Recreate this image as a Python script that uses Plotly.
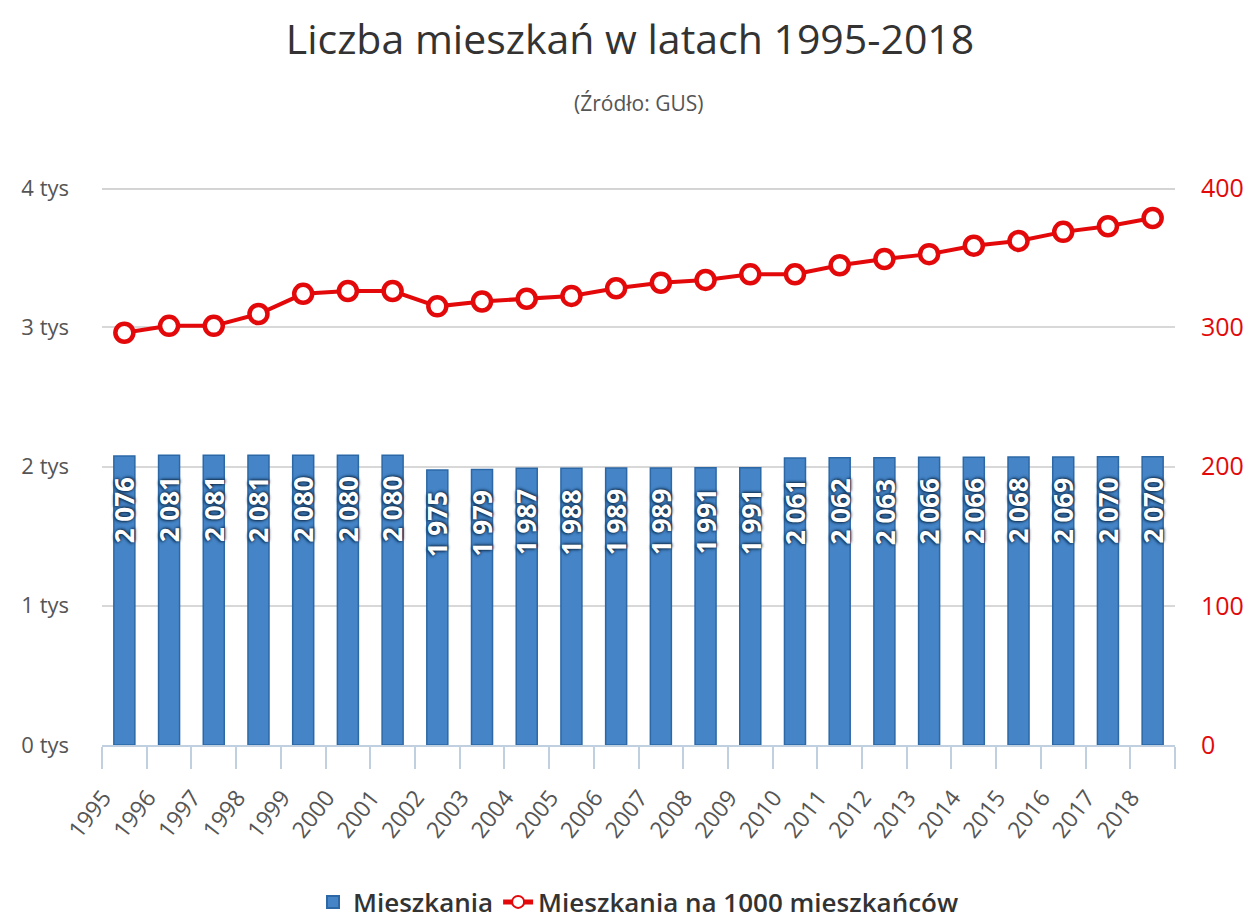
import plotly.graph_objects as go

years = [str(y) for y in range(1995, 2019)]
mieszkania = [2076, 2081, 2081, 2081, 2080, 2080, 2080, 1975, 1979, 1987, 1988, 1989,
              1989, 1991, 1991, 2061, 2062, 2063, 2066, 2066, 2068, 2069, 2070, 2070]
na_1000 = [296, 301, 301, 309.5, 324, 326, 326, 315, 318.5, 320.5, 322.5, 328,
           332, 334, 338, 338, 344.5, 349, 352.5, 358.5, 362, 368.5, 372.5, 378.5]

left_ticks = [0, 1000, 2000, 3000, 4000]
left_ticktext = ["0 tys", "1 tys", "2 tys", "3 tys", "4 tys"]
right_ticks = [0, 100, 200, 300, 400]

FONT = "Open Sans"
OFF = 8                      # page body margin
W, H = 1252 - OFF, 922 - OFF
T, B = 188 - OFF, 177
PH = H - T - B


def paper_y(page_px):
    return (H - B - (page_px - OFF)) / PH


fig = go.Figure()
fig.add_trace(go.Bar(
    x=years, y=mieszkania, name="Mieszkania",
    marker=dict(color="#4484c7", line=dict(width=1.5, color="#2c68a6")),
    width=0.47, hoverinfo="x+y",
))
fig.add_trace(go.Scatter(
    x=years, y=na_1000, name="Mieszkania na 1000 mieszkańców", yaxis="y2",
    mode="lines+markers",
    line=dict(color="#e3090b", width=4),
    marker=dict(symbol="circle", size=18, color="white", line=dict(color="#e3090b", width=4.5)),
))

# bar value labels (category axis: x given as category serial index)
for i, v in enumerate(mieszkania):
    fig.add_annotation(
        x=i, y=v, xref="x", yref="y",
        text=f"{v:,}".replace(",", " "), textangle=-90,
        showarrow=False, yanchor="top", xanchor="center", yshift=-19,
        font=dict(family=FONT, size=26, color="white", weight="bold",
                  shadow="1px 1px 3px #0d2a47, -1px -1px 3px #0d2a47"),
    )

fig.add_annotation(text="(Źródło: GUS)", x=0.5, y=paper_y(103), xref="paper", yref="paper",
                   showarrow=False, yanchor="middle", font=dict(family=FONT, size=21, color="#555"))

fig.add_shape(type="line", xref="paper", yref="y", x0=0, x1=1, y0=left_ticks[-1], y1=left_ticks[-1],
              line=dict(color="#d4d4d4", width=4), layer="below")

fig.update_layout(
    width=W, height=H,
    paper_bgcolor="white", plot_bgcolor="white",
    margin=dict(l=102 - OFF, r=77, t=T, b=B, autoexpand=False),
    title=dict(text="Liczba mieszkań w latach 1995-2018", x=0.5, xanchor="center",
               y=1 - (40 - OFF) / H, yanchor="middle", yref="container",
               font=dict(family=FONT, size=41, color="#333")),
    font=dict(family=FONT, color="#555"),
    showlegend=True,
    legend=dict(orientation="h", x=0.5, xanchor="center", y=paper_y(902), yanchor="middle",
                font=dict(family=FONT, size=26, color="#333", weight=600),
                itemsizing="constant"),
    bargap=0.5,
    xaxis=dict(type="category", range=[-0.5, len(years) - 0.5], autorange=False,
               showgrid=False, showline=True, linecolor="#c0d0e0", linewidth=2,
               ticks="outside", tickson="boundaries", ticklen=22, tickcolor="#c0d0e0", tickwidth=1.5,
               tickangle=-52, tickfont=dict(size=23, color="#555"), ticklabelstandoff=28,
               ticklabelshift=-21, automargin=False),
    yaxis=dict(range=[0, 4000], tickvals=left_ticks, ticktext=left_ticktext,
               showgrid=True, gridcolor="#d8d8d8", gridwidth=2, zeroline=False,
               tickfont=dict(size=22, color="#555"), ticklabelstandoff=32, showline=False,
               automargin=False),
    yaxis2=dict(range=[0, 400], tickvals=right_ticks, overlaying="y", side="right",
                showgrid=False, zeroline=False, tickfont=dict(size=25, color="#e3090b"),
                ticks="outside", ticklen=20, tickcolor="rgba(0,0,0,0)", automargin=False),
)

fig.write_html("out.html")
